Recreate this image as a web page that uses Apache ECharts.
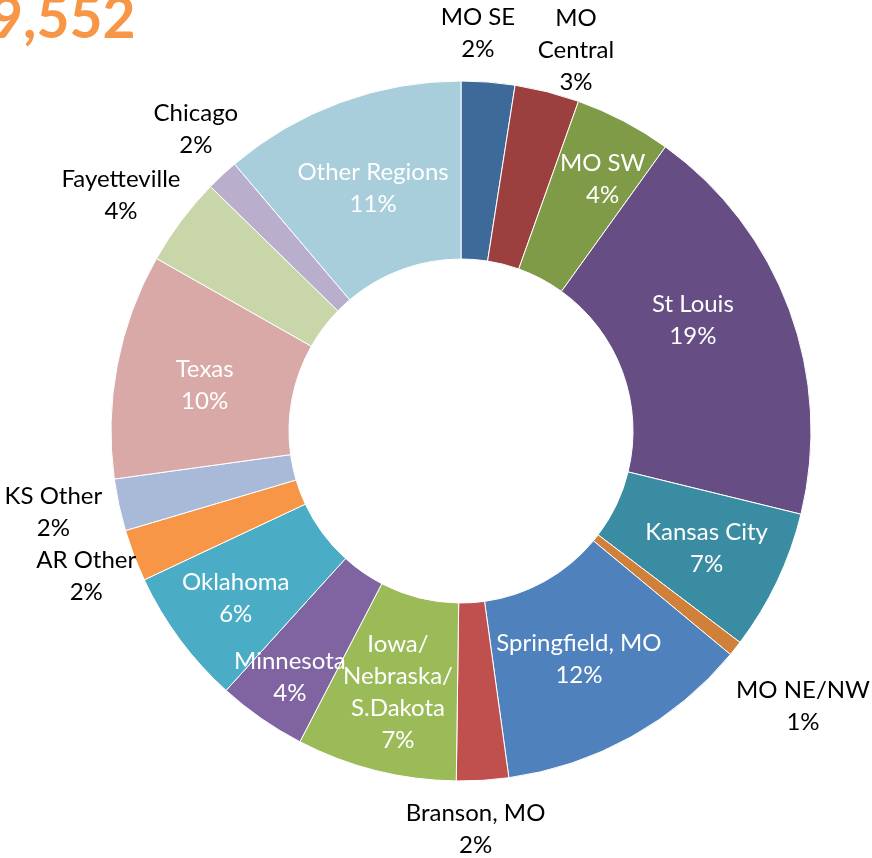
<!DOCTYPE html>
<html lang="en">
<head>
  <meta charset="UTF-8" />
  <title>Regions</title>
  <script src="https://cdn.jsdelivr.net/npm/echarts@6/dist/echarts.min.js"></script>
  <style>
    html, body { margin: 0; padding: 0; background: #fff; }
  </style>
</head>
<body>
  <div id="main" style="width:872px; height:858px;"></div>
  <script type="text/javascript">
    // regions, clockwise from 12 o'clock
    const regions = ['MO SE', 'MO\nCentral', 'MO SW', 'St Louis', 'Kansas City', 'MO NE/NW',
      'Springfield, MO', 'Branson, MO', 'Iowa/\nNebraska/\nS.Dakota', 'Minnesota', 'Oklahoma',
      'AR Other', 'KS Other', 'Texas', 'Fayetteville', 'Chicago', 'Other Regions'];
    // estimated share of total
    const shares = [2.47, 2.98, 4.48, 18.9, 6.5, 0.7, 11.8, 2.4, 7.4, 4.1, 6.3, 2.4, 2.4, 10.4, 4.1, 1.5, 11.2];
    // percentages as printed on the chart
    const shownPct = [2, 3, 4, 19, 7, 1, 12, 2, 7, 4, 6, 2, 2, 10, 4, 2, 11];
    const colors = ['#3E6A9A', '#9C403F', '#7F9B48', '#664E84', '#3A8CA3', '#D08038', '#4F81BD',
      '#C0504D', '#9BBB59', '#8064A2', '#4BACC6', '#F79646', '#A9B9D8', '#D9A9A8', '#C8D6AA',
      '#B9AECB', '#A8CDDB'];
    const outside = ['MO SE', 'MO\nCentral', 'MO NE/NW', 'Branson, MO', 'AR Other', 'KS Other', 'Fayetteville', 'Chicago'];
    const totalText = '9,552';

    // layout: ring geometry, label distance from centre and small nudges
    const cx = 461, cy = 431, rIn = 172, rOut = 350;
    const labelDist = {
      'MO SE': 399, 'MO\nCentral': 398, 'MO NE/NW': 439, 'Branson, MO': 397,
      'AR Other': 401, 'KS Other': 417, 'Fayetteville': 414, 'Chicago': 402,
      'MO SW': 290, 'Kansas City': 272, 'Iowa/\nNebraska/\nS.Dakota': 267,
      'Minnesota': 300, 'Oklahoma': 279
    };
    const labelNudge = {
      'MO SE': [-14, 0], 'MO\nCentral': [17, 5], 'Chicago': [9, -8], 'Fayetteville': [-9, 13],
      'KS Other': [0, -7], 'AR Other': [0, 3], 'Branson, MO': [-10, 2], 'MO NE/NW': [-2, 3],
      'MO SW': [7, 5], 'St Louis': [-13, -20], 'Springfield, MO': [-9, 0], 'Other Regions': [2, 2],
      'Texas': [0, 3], 'Oklahoma': [-1, 1], 'Iowa/\nNebraska/\nS.Dakota': [2, 2]
    };

    const total = shares.reduce((a, b) => a + b, 0);
    const midAngle = [];
    let acc = 0;
    shares.forEach(v => { midAngle.push((acc + v / 2) / total * 2 * Math.PI); acc += v; });

    const chart = echarts.init(document.getElementById('main'));

    const data = regions.map((name, i) => {
      const out = outside.indexOf(name) >= 0;
      return {
        name: name,
        value: shares[i],
        itemStyle: { color: colors[i] },
        label: {
          position: out ? 'outside' : 'inside',
          color: out ? '#000' : '#fff'
        }
      };
    });

    chart.setOption({
      animation: false,
      graphic: [{
        type: 'text',
        left: -10,
        top: -9,
        style: {
          text: totalText,
          fill: '#F79646',
          font: 'bold 57px Lato'
        }
      }],
      series: [{
        type: 'pie',
        center: [cx, cy],
        radius: [rIn, rOut],
        startAngle: 90,
        clockwise: true,
        avoidLabelOverlap: false,
        data: data,
        itemStyle: { borderColor: '#fff', borderWidth: 1 },
        label: {
          show: true,
          fontFamily: 'Lato',
          fontSize: 24,
          lineHeight: 32,
          align: 'center',
          formatter: p => p.name + '\n' + shownPct[p.dataIndex] + '%'
        },
        labelLine: { show: false, length: 8, length2: 0 },
        labelLayout: function (p) {
          const name = regions[p.dataIndex];
          const a = midAngle[p.dataIndex];
          const r = labelDist[name] || (rIn + rOut) / 2;
          const n = labelNudge[name] || [0, 0];
          return {
            x: cx + r * Math.sin(a) + n[0],
            y: cy - r * Math.cos(a) + n[1],
            align: 'center',
            verticalAlign: 'middle'
          };
        },
        emphasis: { disabled: true }
      }]
    });
  </script>
</body>
</html>
